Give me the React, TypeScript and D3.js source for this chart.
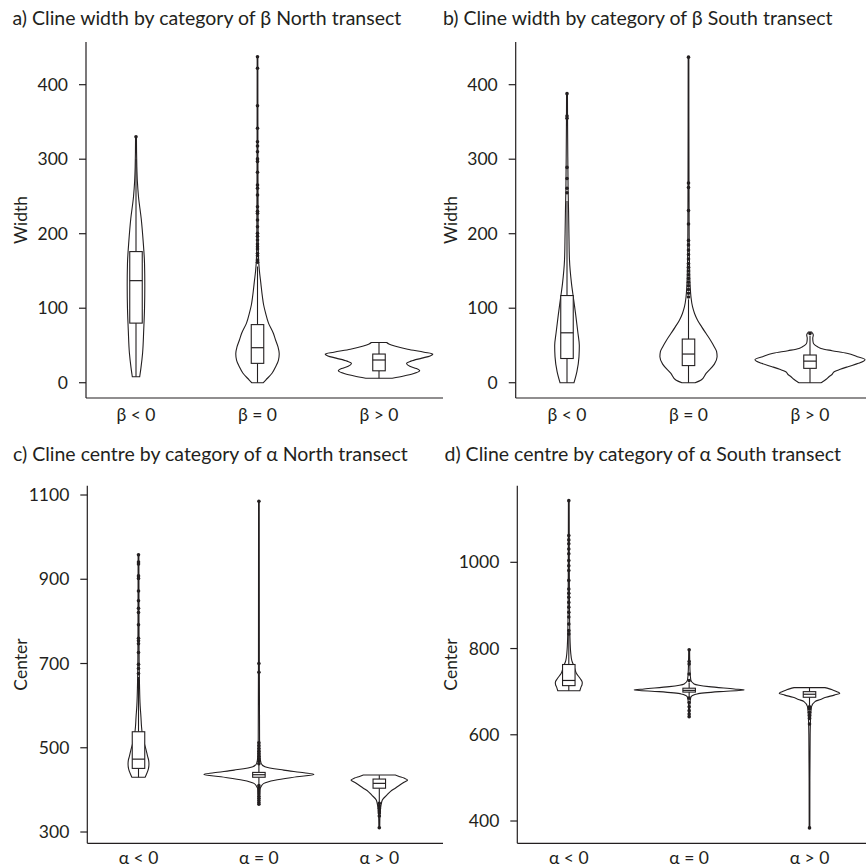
import React from 'react';
import * as d3 from 'd3';

const INK = '#231f20';
const FONT = 'Lato, "Open Sans", sans-serif';

// category labels
const betaCats = ['β < 0', 'β = 0', 'β > 0'];
const alphaCats = ['α < 0', 'α = 0', 'α > 0'];

// y tick labels
const widthTicks = [0, 100, 200, 300, 400];
const centreTicksNorth = [300, 500, 700, 900, 1100];
const centreTicksSouth = [400, 600, 800, 1000];

// box stats per category: [low whisker, q1, median, q3, high whisker]
const boxWidthNorth = [[8, 80, 137, 176, 300], [0, 26, 47, 78, 156], [6, 16, 30.5, 38.5, 54]];
const boxWidthSouth = [[0, 32.5, 67, 117, 244], [0, 23, 38.5, 58.6, 112], [0, 19.3, 29, 37.2, 63]];
const boxCentreNorth = [[430, 451, 473, 538, 668], [412, 430, 436, 441.5, 459], [371, 404, 415.5, 425.7, 435]];
const boxCentreSouth = [[702, 714, 726, 763, 834], [686, 699, 703, 708, 721], [667, 687, 694, 700, 709]];

// violin outlines: [value, relative density]
const violinWidthNorthNeg = [[8, 0.067], [20, 0.09], [40, 0.12], [70, 0.14], [100, 0.155], [130, 0.16], [160, 0.155], [190, 0.13], [220, 0.095], [250, 0.045], [270, 0.025], [290, 0.015], [310, 0.01], [330, 0.008]];
const violinWidthNorthZero = [[0, 0.105], [3.6, 0.15], [13, 0.267], [21.5, 0.33], [30, 0.38], [39, 0.395], [48, 0.373], [57, 0.33], [66, 0.29], [80, 0.2], [94, 0.145], [105, 0.11], [115, 0.09], [134, 0.06], [150, 0.035], [165, 0.02], [200, 0.012], [300, 0.008], [437, 0.006]];
const violinWidthNorthPos = [[6, 0.24], [9, 0.45], [12, 0.62], [16, 0.74], [19, 0.68], [22, 0.56], [26, 0.5], [29, 0.58], [33, 0.78], [36, 0.93], [38.5, 0.98], [41, 0.82], [45, 0.52], [49, 0.3], [52, 0.18], [54, 0.14]];

const violinWidthSouthNeg = [[0, 0.127], [15, 0.18], [35, 0.218], [50, 0.224], [66, 0.2], [90, 0.16], [111, 0.122], [133, 0.082], [165, 0.045], [200, 0.035], [232, 0.028], [260, 0.02], [299, 0.015], [350, 0.01], [388, 0.008]];
const violinWidthSouthZero = [[0, 0.12], [3.6, 0.23], [12.6, 0.32], [25, 0.47], [35, 0.52], [42, 0.51], [48, 0.47], [57, 0.4], [66, 0.32], [75, 0.24], [84, 0.165], [93, 0.11], [102, 0.073], [115, 0.045], [130, 0.03], [160, 0.018], [200, 0.012], [270, 0.009], [437, 0.006]];
const violinWidthSouthPos = [[0, 0.2], [1.3, 0.23], [5, 0.3], [8, 0.345], [11, 0.4], [14.8, 0.44], [18, 0.55], [21.5, 0.69], [26, 0.88], [31, 1.0], [35, 0.86], [39.5, 0.67], [43, 0.4], [46, 0.2], [48, 0.145], [52, 0.07], [55, 0.055], [60, 0.05], [64, 0.06], [66, 0.05], [68, 0.03]];

const violinCentreNorthNeg = [[430, 0.12], [437, 0.145], [450, 0.18], [461, 0.19], [470, 0.185], [480, 0.165], [494, 0.14], [518, 0.09], [532, 0.07], [550, 0.055], [572, 0.045], [600, 0.03], [650, 0.018], [700, 0.012], [800, 0.009], [957, 0.007]];
const violinCentreNorthZero = [[366, 0.008], [400, 0.015], [407, 0.036], [415.5, 0.09], [423, 0.29], [431, 0.69], [436.8, 1.0], [440.6, 0.82], [447, 0.45], [455, 0.11], [463, 0.04], [480, 0.02], [520, 0.012], [700, 0.008], [1085, 0.006]];
const violinCentreNorthPos = [[310, 0.008], [340, 0.012], [360, 0.027], [376, 0.055], [388, 0.14], [396, 0.2], [404, 0.29], [412, 0.38], [418, 0.45], [423.3, 0.515], [428, 0.45], [432, 0.36], [435.2, 0.29]];

const violinCentreSouthNeg = [[702, 0.2], [710, 0.22], [716, 0.24], [721, 0.245], [730, 0.21], [742, 0.14], [757, 0.1], [772, 0.055], [790, 0.035], [830, 0.02], [900, 0.012], [1000, 0.009], [1143, 0.007]];
const violinCentreSouthZero = [[642, 0.008], [670, 0.012], [684, 0.025], [688.5, 0.036], [694.7, 0.145], [700, 0.55], [704, 1.0], [706.3, 0.82], [711.7, 0.36], [718, 0.09], [727, 0.03], [750, 0.015], [797, 0.008]];
const violinCentreSouthPos = [[384, 0.006], [500, 0.007], [600, 0.012], [640, 0.02], [665, 0.036], [677, 0.1], [682, 0.2], [687, 0.3], [692, 0.45], [696.3, 0.55], [700, 0.5], [704, 0.42], [707, 0.35], [709.4, 0.28]];

// outlier points
const outWidthNorthNeg = [330];
const outWidthNorthZero = [161.6, 164.7, 170.5, 173.7, 179.5, 182.6, 186.2, 191.5, 196.5, 200.5, 209.4, 218.4, 227.3, 230, 236.2, 252, 261, 265.4, 282.5, 296.8, 300.4, 310, 317.7, 323.5, 341.5, 371.8, 422, 437.6];
const outWidthNorthPos: number[] = [];
const outWidthSouthNeg = [255, 261, 274, 289, 355, 358, 388];
const outWidthSouthZero = [115, 120, 125, 130, 135, 140, 145, 150, 155, 160, 166, 172, 178, 185, 191, 213, 231, 262, 268, 437];
const outWidthSouthPos = [66];
const outCentreNorthNeg = [676, 688, 698, 726, 747, 754, 760, 792, 821, 831, 849, 872, 902, 908, 936, 941, 958];
const outCentreNorthZero = [366, 370, 375, 380, 385, 390, 395, 400, 405, 410, 462, 468, 474, 480, 486, 492, 498, 505, 512, 679, 700, 1085];
const outCentreNorthPos = [310, 338, 345, 350, 356, 362, 368];
const outCentreSouthNeg = [834, 842, 857, 873, 884, 896, 907, 919, 928, 938, 958, 981, 992, 1004, 1020, 1031, 1043, 1052, 1062, 1143];
const outCentreSouthZero = [642, 648, 656, 665, 675, 685, 726, 741, 764, 770, 797];
const outCentreSouthPos = [384, 625, 638, 645, 652, 660, 665];

const panels = [
  { title: 'a) Cline width by category of β North transect', ylab: 'Width', cats: betaCats, ticks: widthTicks,
    boxes: boxWidthNorth, violins: [violinWidthNorthNeg, violinWidthNorthZero, violinWidthNorthPos],
    outliers: [outWidthNorthNeg, outWidthNorthZero, outWidthNorthPos],
    left: 86, right: 443, top: 42, bottom: 398, domain: [-20.5, 457.3], centres: [136, 379],
    titleX: 12.5, titleY: 25, ylabX: 21, catY: 421 },
  { title: 'b) Cline width by category of β South transect', ylab: 'Width', cats: betaCats, ticks: widthTicks,
    boxes: boxWidthSouth, violins: [violinWidthSouthNeg, violinWidthSouthZero, violinWidthSouthPos],
    outliers: [outWidthSouthNeg, outWidthSouthZero, outWidthSouthPos],
    left: 515.7, right: 866, top: 42, bottom: 398, domain: [-20.5, 457.3], centres: [567, 810],
    titleX: 443, titleY: 25, ylabX: 451, catY: 421 },
  { title: 'c) Cline centre by category of α North transect', ylab: 'Center', cats: alphaCats, ticks: centreTicksNorth,
    boxes: boxCentreNorth, violins: [violinCentreNorthNeg, violinCentreNorthZero, violinCentreNorthPos],
    outliers: [outCentreNorthNeg, outCentreNorthZero, outCentreNorthPos],
    left: 87.3, right: 443, top: 485.7, bottom: 843.3, domain: [273.2, 1122.1], centres: [138.5, 379.3],
    titleX: 13, titleY: 460.5, ylabX: 21, catY: 864 },
  { title: 'd) Cline centre by category of α South transect', ylab: 'Center', cats: alphaCats, ticks: centreTicksSouth,
    boxes: boxCentreSouth, violins: [violinCentreSouthNeg, violinCentreSouthZero, violinCentreSouthPos],
    outliers: [outCentreSouthNeg, outCentreSouthZero, outCentreSouthPos],
    left: 517.3, right: 866, top: 485.7, bottom: 843.3, domain: [348.3, 1177.7], centres: [568.8, 809.5],
    titleX: 444.5, titleY: 460.5, ylabX: 451, catY: 864 },
];

function Panel({ p }: { p: any }) {
  const y = d3.scaleLinear().domain(p.domain).range([p.bottom, p.top]);
  const x = d3.scalePoint<string>().domain(p.cats).range(p.centres);
  const w = d3.scaleLinear().domain([0, 1]).range([0, 55]);
  const boxW = 12.5;

  return (
    <g>
      <text x={p.titleX} y={p.titleY} fontSize={19.5} fill={INK}>{p.title}</text>

      {p.cats.map((c: string, i: number) => {
        const cx = x(c)!;
        const area = d3.area<number[]>()
          .y(d => y(d[0]))
          .x0(d => cx - w(d[1]))
          .x1(d => cx + w(d[1]))
          .curve(d3.curveMonotoneY);
        const [lo, q1, med, q3, hi] = p.boxes[i];
        return (
          <g key={c}>
            <path d={area(p.violins[i]) || ''} fill="#fff" stroke={INK} strokeWidth={1.1} />
            <line x1={cx} x2={cx} y1={y(lo)} y2={y(q1)} stroke={INK} strokeWidth={1.1} />
            <line x1={cx} x2={cx} y1={y(q3)} y2={y(hi)} stroke={INK} strokeWidth={1.1} />
            <rect x={cx - boxW / 2} y={y(q3)} width={boxW} height={y(q1) - y(q3)} fill="#fff" stroke={INK} strokeWidth={1.1} />
            <line x1={cx - boxW / 2} x2={cx + boxW / 2} y1={y(med)} y2={y(med)} stroke={INK} strokeWidth={1.2} />
            {p.outliers[i].map((v: number, k: number) => (
              <circle key={k} cx={cx} cy={y(v)} r={1.8} fill={INK} />
            ))}
          </g>
        );
      })}

      <line x1={p.left} x2={p.left} y1={p.top} y2={p.bottom} stroke={INK} strokeWidth={1.2} />
      <line x1={p.left} x2={p.right} y1={p.bottom} y2={p.bottom} stroke={INK} strokeWidth={1.2} />
      {p.ticks.map((t: number) => (
        <g key={t}>
          <line x1={p.left - 7} x2={p.left} y1={y(t)} y2={y(t)} stroke={INK} strokeWidth={1.2} />
          <text x={p.left - 18} y={y(t)} dy="0.35em" textAnchor="end" fontSize={17.5} fill={INK}>{t}</text>
        </g>
      ))}
      {p.cats.map((c: string) => (
        <text key={c} x={x(c)} y={p.catY} textAnchor="middle" fontSize={17.5} fill={INK}>{c}</text>
      ))}
      <text transform={`translate(${p.ylabX},${(p.top + p.bottom) / 2}) rotate(-90)`} dy="0.35em"
        textAnchor="middle" fontSize={17.5} fill={INK}>{p.ylab}</text>
    </g>
  );
}

export default function App() {
  return (
    <div style={{ position: 'absolute', left: 0, top: 0 }}>
      <svg width={866} height={868} style={{ display: 'block', background: '#fff', fontFamily: FONT }}>
        {panels.map((p, i) => <Panel key={i} p={p} />)}
      </svg>
    </div>
  );
}
